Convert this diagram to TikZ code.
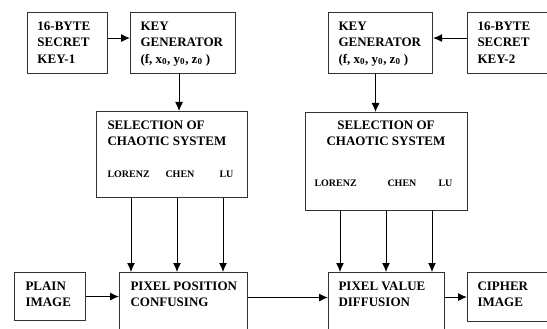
\documentclass[tikz,border=0pt]{standalone}
\usepackage{fontspec}
\setmainfont{Liberation Serif}
\usetikzlibrary{positioning,arrows.meta}

\tikzset{
	blk/.style={draw=black!80,line width=1.1pt,rectangle,anchor=north west,inner sep=0pt},
	txt/.style={font=\fontsize{13}{16.5}\selectfont\bfseries,align=left,inner sep=0pt,anchor=north west},
	sys/.style={font=\fontsize{10}{12}\selectfont\bfseries,inner sep=0pt,anchor=north west}
}

\begin{document}
\begin{tikzpicture}[x=1pt,y=-1pt,>={Latex[length=9pt,width=8pt]},line width=1pt]
	\useasboundingbox (0,0) rectangle (547,329);
	\clip (0,0) rectangle (547,329);
	% boxes
	\node[blk,minimum width=80pt,minimum height=61pt] (key_1) at (27,12) {};
	\node[blk,minimum width=105pt,minimum height=61pt] (gen_1) at (130,12) {};
	\node[blk,minimum width=104pt,minimum height=61pt] (gen_2) at (328,12) {};
	\node[blk,minimum width=90pt,minimum height=61pt] (key_2) at (467,12) {};
	\node[blk,minimum width=151pt,minimum height=86pt] (sel_1) at (96,111) {};
	\node[blk,minimum width=162pt,minimum height=98pt] (sel_2) at (305,112) {};
	\node[blk,minimum width=71pt,minimum height=48pt] (plain) at (14,272) {};
	\node[blk,minimum width=128pt,minimum height=70pt] (pos) at (119,272) {};
	\node[blk,minimum width=116pt,minimum height=70pt] (val) at (328,272) {};
	\node[blk,minimum width=90pt,minimum height=49pt] (cipher) at (467,272) {};
	% texts
	\node[txt] (key_1_t) at (37,21) {16-BYTE\\SECRET\\KEY-1};
	\node[txt] (gen_1_t) at (140,21) {KEY\\GENERATOR\\(f, x\textsubscript{0}, y\textsubscript{0}, z\textsubscript{0} )};
	\node[txt] (gen_2_t) at (338,21) {KEY\\GENERATOR\\(f, x\textsubscript{0}, y\textsubscript{0}, z\textsubscript{0} )};
	\node[txt] (key_2_t) at (477,21) {16-BYTE\\SECRET\\KEY-2};
	\node[txt] (sel_1_t) at (107,120) {SELECTION OF\\CHAOTIC SYSTEM};
	\node[txt,align=center,anchor=north] (sel_2_t) at (386,120) {SELECTION OF\\CHAOTIC SYSTEM};
	\node[sys] (lorenz_1) at (107,170) {LORENZ};
	\node[sys] (chen_1) at (165,170) {CHEN};
	\node[sys] (lu_1) at (219,170) {LU};
	\node[sys] (lorenz_2) at (314,179) {LORENZ};
	\node[sys] (chen_2) at (387,179) {CHEN};
	\node[sys] (lu_2) at (438,179) {LU};
	\node[txt] (plain_t) at (25,281) {PLAIN\\IMAGE};
	\node[txt] (pos_t) at (130,281) {PIXEL POSITION\\CONFUSING};
	\node[txt] (val_t) at (338,281) {PIXEL VALUE\\DIFFUSION};
	\node[txt] (cipher_t) at (477,281) {CIPHER\\IMAGE};
	% connectors
	\draw[->] ([yshift=5pt]key_1.east) -- ([yshift=5pt]key_1.east -| gen_1.west);
	\draw[->] ([yshift=5pt]key_2.west) -- ([yshift=5pt]key_2.west -| gen_2.east);
	\draw[->] ([xshift=-4pt]gen_1.south) -- ([xshift=-4pt]gen_1.south |- sel_1.north);
	\draw[->] ([xshift=-5pt]gen_2.south) -- ([xshift=-5pt]gen_2.south |- sel_2.north);
	\foreach \dx in {35,81,127} {
		\draw[->] ([xshift=\dx pt]sel_1.south west) -- ([xshift=\dx pt]sel_1.south west |- pos.north);
		\draw[->] ([xshift=\dx pt]sel_2.south west) -- ([xshift=\dx pt]sel_2.south west |- val.north);
	}
	\draw[->] (plain.east) -- (plain.east -| pos.west);
	\draw[->] ([yshift=10pt]pos.east) -- ([yshift=10pt]pos.east -| val.west);
	\draw[->] (val.east |- cipher.west) -- (cipher.west);
\end{tikzpicture}
\end{document}
